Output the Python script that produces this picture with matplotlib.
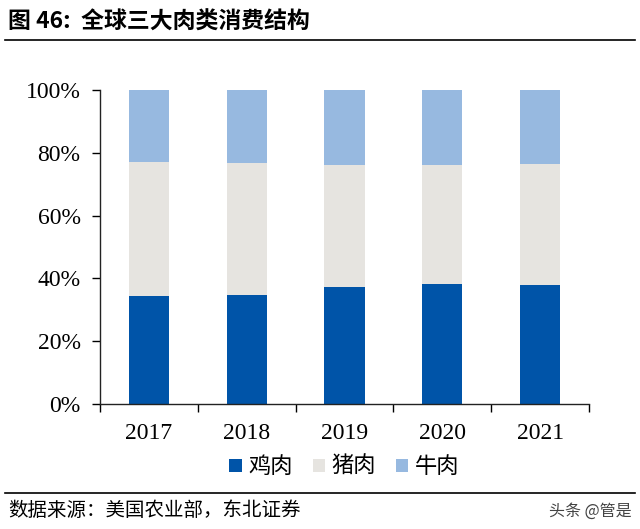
import numpy as np
import matplotlib
matplotlib.use("Agg")
import matplotlib.pyplot as plt
from matplotlib.ticker import PercentFormatter

CJK = ['Noto Sans CJK SC', 'DejaVu Sans']
NUM = ['Liberation Serif', 'DejaVu Serif']

years = ['2017', '2018', '2019', '2020', '2021']
chicken = [34.4, 34.6, 37.2, 38.2, 37.8]
pork = [42.7, 42.3, 38.8, 37.8, 38.6]
beef = [22.9, 23.1, 24.0, 24.0, 23.6]
series_names = ['鸡肉', '猪肉', '牛肉']
colors = ['#0054A8', '#E6E4E0', '#97B9E0']

fig = plt.figure(figsize=(6.4, 5.29), dpi=100)
ax = fig.add_axes([100 / 640, 1 - 404 / 529, 489 / 640, 314 / 529])

x = np.arange(len(years))
bottom = np.zeros(len(years))
for vals, name, c in zip([chicken, pork, beef], series_names, colors):
    vals = np.array(vals) / 100.0
    ax.bar(x, vals, width=0.41, bottom=bottom, color=c, label=name)
    bottom += vals

ax.set_xlim(-0.5, len(years) - 0.5)
ax.set_ylim(0, 1)
ax.set_yticks(np.linspace(0, 1, 6))
ax.yaxis.set_major_formatter(PercentFormatter(1.0, decimals=0))
ax.set_xticks(np.arange(-0.5, len(years), 1.0))
ax.set_xticklabels([])
ax.set_xticks(x, minor=True)
ax.set_xticklabels(years, minor=True)
ax.tick_params(axis='x', which='minor', length=0, pad=13.5)
ax.tick_params(axis='x', which='major', length=6, width=1, direction='out')
ax.tick_params(axis='y', length=6, width=1, direction='out', pad=8)
for lab in ax.get_yticklabels() + ax.get_xticklabels(minor=True):
    lab.set_fontfamily(NUM)
    lab.set_fontsize(17)
for s in ['top', 'right']:
    ax.spines[s].set_visible(False)
for s in ['left', 'bottom']:
    ax.spines[s].set_linewidth(1)
    ax.spines[s].set_color('#222222')

leg = ax.legend(loc='center', bbox_to_anchor=(0.5, -0.2), ncol=3, frameon=False,
                prop={'family': CJK, 'size': 16}, handlelength=0.55, handleheight=0.55,
                handletextpad=0.3, columnspacing=0.9)

fig.text(8 / 640, 1 - 22 / 529, '图 46:  全球三大肉类消费结构', family=CJK, fontsize=16.5,
         fontweight='bold', va='center', ha='left')
fig.add_artist(plt.Line2D([5 / 640, 635 / 640], [1 - 40 / 529, 1 - 40 / 529], color='black', lw=1.2))
fig.add_artist(plt.Line2D([5 / 640, 635 / 640], [1 - 493 / 529, 1 - 493 / 529], color='black', lw=1.2))
fig.text(8 / 640, 1 - 511 / 529, '数据来源：美国农业部，东北证券', family=CJK, fontsize=14,
         va='center', ha='left')
fig.text(632 / 640, 1 - 511 / 529, '头条 @管是', family=CJK, fontsize=11.5,
         va='center', ha='right', color='#444444')

fig.savefig('out.png', dpi=100)
